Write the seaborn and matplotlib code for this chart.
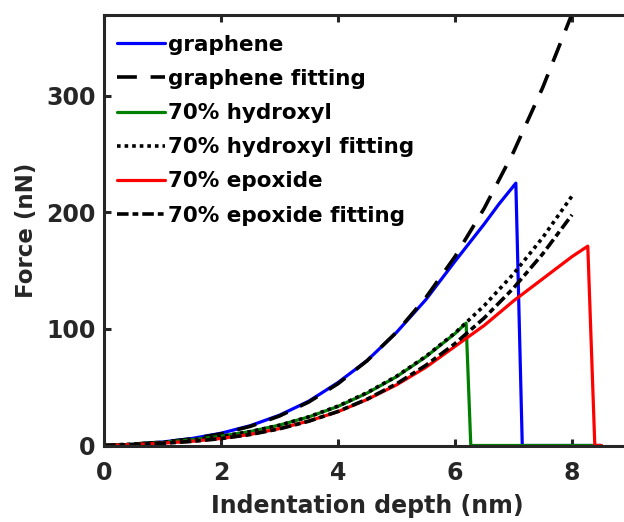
import matplotlib
matplotlib.use("Agg")
import matplotlib.pyplot as plt
import seaborn as sns
import numpy as np

# ---- data ----
graphene_x = [0, 0.5, 1, 1.5, 2, 2.5, 3, 3.5, 4, 4.5, 5, 5.5, 6, 6.5, 6.75, 7.04, 7.15, 8.5]
graphene_y = [0, 1.0, 3.0, 6.0, 10.5, 17, 26, 38, 54, 73, 97, 125, 158, 190, 207, 225, 0, 0]

graphene_fit_x = [0, 0.5, 1, 1.5, 2, 2.5, 3, 3.5, 4, 4.5, 5, 5.5, 6, 6.5, 7, 7.5, 8]
graphene_fit_y = [0, 1.2, 2.9, 5.7, 10.0, 16.4, 25.3, 37.3, 53.0, 72.8, 97.2, 126.8, 162.0, 203.5, 251.7, 307.1, 370.2]

hydroxyl_x = [0, 0.5, 1, 1.5, 2, 2.5, 3, 3.5, 4, 4.5, 5, 5.5, 6, 6.19, 6.27, 8.5]
hydroxyl_y = [0, 1.0, 2.6, 4.9, 8.0, 12.0, 17.5, 24.5, 33.5, 45, 59, 76, 96, 105, 0, 0]

hydroxyl_fit_x = [0, 0.5, 1, 1.5, 2, 2.5, 3, 3.5, 4, 4.5, 5, 5.5, 6, 6.5, 7, 7.5, 8]
hydroxyl_fit_y = [0, 1.2, 2.7, 4.8, 7.8, 11.9, 17.4, 24.6, 33.8, 45.4, 59.4, 76.4, 96.5, 120.0, 147.2, 178.4, 214.0]

epoxide_x = [0, 0.5, 1, 1.5, 2, 2.5, 3, 3.5, 4, 4.5, 5, 5.5, 6, 6.5, 7, 7.5, 8, 8.27, 8.39, 8.5]
epoxide_y = [0, 0.8, 2.0, 3.6, 6.0, 9.5, 14.5, 21, 29, 39.5, 52, 67, 85, 103, 124, 143, 162, 171, 0, 0]

epoxide_fit_x = [0, 0.5, 1, 1.5, 2, 2.5, 3, 3.5, 4, 4.5, 5, 5.5, 6, 6.5, 7, 7.5, 8]
epoxide_fit_y = [0, 0.8, 1.9, 3.5, 5.9, 9.4, 14.3, 20.8, 29.2, 39.8, 52.9, 68.7, 87.4, 109.4, 135.0, 164.4, 197.9]

labels = ["graphene", "graphene fitting", "70% hydroxyl",
          "70% hydroxyl fitting", "70% epoxide", "70% epoxide fitting"]
x_ticks = [0, 2, 4, 6, 8]
y_ticks = [0, 100, 200, 300]

sns.set_theme(style="white")
plt.rcParams["font.family"] = ["DejaVu Sans"]
plt.rcParams["font.weight"] = "bold"

fig = plt.figure(figsize=(6.24, 5.22), dpi=100)
ax = fig.add_axes([104 / 624, 76.5 / 522, 526.5 / 624, 430.2 / 522])

spine_c = "#262626"
lw_data = 2.3
lw_fit = 2.6

sns.lineplot(x=graphene_x, y=graphene_y, ax=ax, color=(0, 0, 1), lw=lw_data,
             sort=False, estimator=None, label=labels[0])
sns.lineplot(x=graphene_fit_x, y=graphene_fit_y, ax=ax, color="black", lw=lw_fit,
             sort=False, estimator=None, label=labels[1], linestyle=(0, (5.5, 3.8)))
sns.lineplot(x=hydroxyl_x, y=hydroxyl_y, ax=ax, color=(0, 0.5, 0), lw=lw_data,
             sort=False, estimator=None, label=labels[2])
sns.lineplot(x=hydroxyl_fit_x, y=hydroxyl_fit_y, ax=ax, color="black", lw=lw_fit,
             sort=False, estimator=None, label=labels[3], linestyle=(0, (1.0, 1.1)))
sns.lineplot(x=epoxide_x, y=epoxide_y, ax=ax, color=(1, 0, 0), lw=lw_data,
             sort=False, estimator=None, label=labels[4])
sns.lineplot(x=epoxide_fit_x, y=epoxide_fit_y, ax=ax, color="black", lw=lw_fit,
             sort=False, estimator=None, label=labels[5],
             linestyle=(0, (3.2, 1.1, 1.6, 1.1)))

ax.set_xlim(0, 9)
ax.set_ylim(0, 369)
ax.set_xticks(x_ticks)
ax.set_yticks(y_ticks)
ax.set_xticklabels([str(v) for v in x_ticks])
ax.set_yticklabels([str(v) for v in y_ticks])

for s in ax.spines.values():
    s.set_visible(True)
    s.set_color(spine_c)
    s.set_linewidth(2.2)

ax.tick_params(axis="both", which="major", direction="in", length=5, width=2.2,
               color=spine_c, labelcolor=spine_c, labelsize=17,
               top=True, right=True, bottom=True, left=True)
ax.tick_params(axis="x", pad=11)
ax.tick_params(axis="y", pad=6)
for t in ax.get_xticklabels() + ax.get_yticklabels():
    t.set_fontweight("bold")

ax.set_xlabel("Indentation depth (nm)", fontsize=17, fontweight="bold",
              color=spine_c, labelpad=7)
ax.set_ylabel("Force (nN)", fontsize=16.5, fontweight="bold",
              color=spine_c, labelpad=6)

leg = ax.legend(loc="upper left", bbox_to_anchor=(0.0247, 0.955), frameon=False,
                borderaxespad=0, borderpad=0, handlelength=2.25, handletextpad=0.1,
                labelspacing=0.66, prop={"size": 15.5, "weight": "bold"})
for t in leg.get_texts():
    t.set_color("black")

fig.savefig("out.png", dpi=100)
